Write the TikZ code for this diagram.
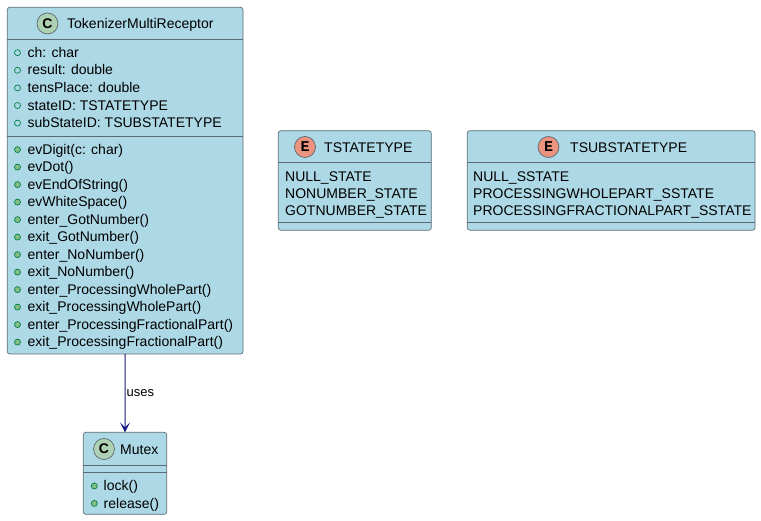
\documentclass[tikz,border=0pt]{standalone}
\usepackage{fontspec}
\setmainfont{Liberation Sans}
\newfontfamily\monofont{Liberation Mono}
\usetikzlibrary{arrows.meta}
\definecolor{boxfill}{HTML}{ADD8E6}
\definecolor{boxline}{HTML}{5B6A73}
\definecolor{arrowc}{HTML}{181880}
\definecolor{cfill}{HTML}{ADD1B2}
\definecolor{efill}{HTML}{EB937F}
\definecolor{dotline}{HTML}{038048}
\definecolor{dotfill}{HTML}{84BE84}
\begin{document}
\begin{tikzpicture}[x=1pt,y=-1pt,
  box/.style={draw=boxline, fill=boxfill, rounded corners=2.5pt, line width=0.7pt, anchor=north west, inner sep=0pt, outer sep=0pt},
  sepline/.style={draw=boxline, line width=0.7pt},
  mem/.style={anchor=base west, inner sep=0pt, font=\fontsize{14}{16}\selectfont},
  ttl/.style={anchor=base west, inner sep=0pt, font=\fontsize{14}{16}\selectfont},
  lbl/.style={anchor=base west, inner sep=0pt, font=\fontsize{13}{15}\selectfont},
  pubf/.style={circle, draw=dotline, line width=0.7pt, minimum size=6pt, inner sep=0pt},
  pubm/.style={circle, draw=dotline, fill=dotfill, line width=0.7pt, minimum size=6pt, inner sep=0pt},
  cicon/.style={circle, draw=boxline, fill=cfill, line width=0.7pt, minimum size=21pt, inner sep=0pt, font=\fontsize{14}{16}\selectfont\bfseries},
  eicon/.style={circle, draw=boxline, fill=efill, line width=0.7pt, minimum size=21pt, inner sep=0pt, font=\fontsize{15}{16}\selectfont\monofont\bfseries},
  uses/.style={draw=arrowc, line width=1pt, -{Stealth[length=10pt,width=10pt,inset=5pt]}}
]
\useasboundingbox (0,0) rectangle (761,521);

% ---- TokenizerMultiReceptor ----
\node[box, minimum width=235.7pt, minimum height=346.7pt] (tmr) at (7.3,7.3) {};
\draw[sepline] (7.3,39.3) -- (243,39.3);
\draw[sepline] (7.3,136.7) -- (243,136.7);
\node[cicon] (tmrc) at (47.5,23.5) {C};
\node[ttl] (tmrt) at (67,28.8) {TokenizerMultiReceptor};
\foreach \i/\t [count=\k from 0] in {a1/{ch: char},a2/{result: double},a3/{tensPlace: double},a4/{stateID: TSTATETYPE},a5/{subStateID: TSUBSTATETYPE}}{
  \node[pubf] (\i d) at (17.5,{57.3+17.6*\k-4.6}) {};
  \node[mem] (\i) at (27.5,{57.3+17.6*\k}) {\t};
}
\foreach \i/\t [count=\k from 0] in {m1/{evDigit(c: char)},m2/{evDot()},m3/{evEndOfString()},m4/{evWhiteSpace()},m5/{enter\_GotNumber()},m6/{exit\_GotNumber()},m7/{enter\_NoNumber()},m8/{exit\_NoNumber()},m9/{enter\_ProcessingWholePart()},m10/{exit\_ProcessingWholePart()},m11/{enter\_ProcessingFractionalPart()},m12/{exit\_ProcessingFractionalPart()}}{
  \node[pubm] (\i d) at (17.5,{154.2+17.5*\k-4.6}) {};
  \node[mem] (\i) at (27.5,{154.2+17.5*\k}) {\t};
}

% ---- TSTATETYPE ----
\node[box, minimum width=153pt, minimum height=99.5pt] (ts) at (278.3,130.7) {};
\draw[sepline] (278.3,162.5) -- (431.3,162.5);
\draw[sepline] (278.3,222) -- (431.3,222);
\node[eicon] (tsc) at (305,147) {E};
\node[ttl] (tst) at (324,152.2) {TSTATETYPE};
\node[mem] (ts1) at (285,181.3) {NULL\_STATE};
\node[mem] (ts2) at (285,198.6) {NONUMBER\_STATE};
\node[mem] (ts3) at (285,215.9) {GOTNUMBER\_STATE};

% ---- TSUBSTATETYPE ----
\node[box, minimum width=287.7pt, minimum height=99.5pt] (tss) at (467.3,130.7) {};
\draw[sepline] (467.3,162.5) -- (755,162.5);
\draw[sepline] (467.3,222) -- (755,222);
\node[eicon] (tssc) at (548.5,147) {E};
\node[ttl] (tsst) at (570,152.2) {TSUBSTATETYPE};
\node[mem] (tss1) at (473,181.3) {NULL\_SSTATE};
\node[mem] (tss2) at (473,198.6) {PROCESSINGWHOLEPART\_SSTATE};
\node[mem] (tss3) at (473,215.9) {PROCESSINGFRACTIONALPART\_SSTATE};

% ---- Mutex ----
\node[box, minimum width=83.4pt, minimum height=82pt] (mx) at (83.3,432.3) {};
\draw[sepline] (83.3,465) -- (166.7,465);
\draw[sepline] (83.3,472.3) -- (166.7,472.3);
\node[cicon] (mxc) at (104,449) {C};
\node[ttl] (mxt) at (120,454.2) {Mutex};
\node[pubm] (mx1d) at (94.3,486) {};
\node[mem] (mx1) at (103.5,490.6) {lock()};
\node[pubm] (mx2d) at (94.3,503.4) {};
\node[mem] (mx2) at (103.5,508) {release()};

% ---- connector ----
\draw[uses] (tmr.south) -- (mx.north);
\node[lbl] (usesl) at (126.5,397) {uses};
\end{tikzpicture}
\end{document}
